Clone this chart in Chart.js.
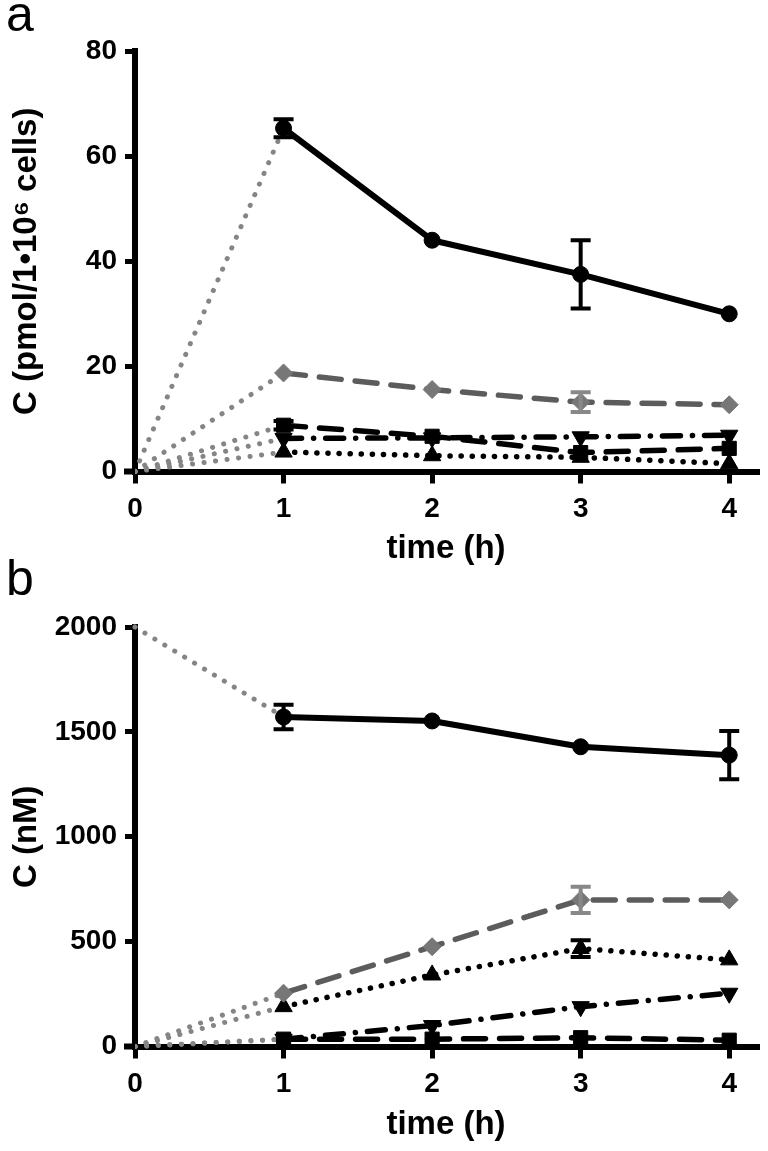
<!DOCTYPE html>
<html><head><meta charset="utf-8">
<script src="https://cdn.jsdelivr.net/npm/chart.js@4.4.1/dist/chart.umd.min.js"></script>
<style>
html,body{margin:0;padding:0;background:#fff;width:768px;height:1151px;overflow:hidden;}
.wrap{position:absolute;left:0;width:768px;}
#wa{top:0;height:575px;} #wb{top:575px;height:576px;}
.lbl{position:absolute;left:6px;font-family:"Liberation Sans",Arial,sans-serif;font-size:50px;line-height:50px;color:#000;}
canvas{display:block;}
</style></head><body>
<div class="wrap" id="wa"><canvas id="ca" width="768" height="575"></canvas></div>
<div class="wrap" id="wb"><canvas id="cb" width="768" height="576"></canvas></div>
<div class="lbl" style="top:-11px">a</div>
<div class="lbl" style="top:553px">b</div>
<script>
// ---------------- data ----------------
const timeH = [1, 2, 3, 4];
const xTickValues = [0, 1, 2, 3, 4];
const aYTicks = [0, 20, 40, 60, 80];
const bYTicks = [0, 500, 1000, 1500, 2000];

// panel a : C (pmol/1e6 cells)
const aCircle = [65.3, 44.0, 37.5, 30.0];
const aCircleErr = [1.7, 0, 6.5, 0];
const aDiamond = [18.75, 15.6, 13.2, 12.7];
const aDiamondErr = [0, 0, 1.9, 0];
const aSquare = [8.8, 6.7, 3.6, 4.4];
const aSquareErr = [0.8, 0, 0, 0];
const aInvTri = [6.3, 6.4, 6.6, 6.9];
const aInvTriErr = [0, 0, 0, 0];
const aTri = [3.7, 3.0, 2.7, 1.5];
const aTriErr = [0, 0, 0, 0];
const aStartValues = [0, 0, 0, 0, 0]; // circle, diamond, square, invTri, tri at t = 0

// panel b : C (nM)
const bCircle = [1571, 1552, 1429, 1389];
const bCircleErr = [58, 0, 0, 115];
const bDiamond = [254, 476, 699, 699];
const bDiamondErr = [0, 0, 63, 0];
const bSquare = [35, 35, 42, 30];
const bSquareErr = [0, 0, 0, 0];
const bInvTri = [35, 100, 190, 254];
const bInvTriErr = [0, 0, 0, 0];
const bTri = [190, 341, 467, 413];
const bTriErr = [0, 0, 40, 0];
const bStartValues = [2000, 0, 0, 0, 0];

// ---------------- styles ----------------
const FONT = '"Liberation Sans", Arial, Helvetica, sans-serif';
const styles = {
  circle:  {color:'#000', pointColor:'#000', barColor:'#000', width:6, dash:[], pointStyle:'circle', r:8, rot:0, order:1},
  diamond: {color:'#5c5c5c', pointColor:'#777', barColor:'#888', width:5.5, dash:[22,14], pointStyle:'rectRot', r:9, rot:0, order:2},
  square:  {color:'#000', pointColor:'#000', barColor:'#000', width:5.5, dash:[22,14], pointStyle:'rect', r:10, rot:0, order:3},
  invTri:  {color:'#000', pointColor:'#000', barColor:'#000', width:5.5, dash:[18,12,0.1,12], pointStyle:'triangle', r:10, rot:180, order:4},
  tri:     {color:'#000', pointColor:'#000', barColor:'#000', width:5.5, dash:[0.1,11], pointStyle:'triangle', r:10, rot:0, order:5}
};
const CONNECT = {color:'#858585', width:5, dash:[0.1,11.5]};

function seriesDataset(vals, errs, st) {
  return {
    data: timeH.map((t, i) => ({x: t, y: vals[i]})),
    errBars: errs, barColor: st.barColor,
    borderColor: st.color, borderWidth: st.width, borderDash: st.dash,
    borderCapStyle: 'round', borderJoinStyle: 'round',
    pointStyle: st.pointStyle, pointRadius: st.r, pointRotation: st.rot,
    pointBackgroundColor: st.pointColor, pointBorderColor: st.pointColor, pointBorderWidth: 1,
    order: st.order, clip: false, tension: 0
  };
}
function connectorDataset(start, firstVal) {
  return {
    data: [{x: 0, y: start}, {x: 1, y: firstVal}],
    borderColor: CONNECT.color, borderWidth: CONNECT.width, borderDash: CONNECT.dash,
    borderCapStyle: 'round', pointRadius: 0, order: 10, clip: false
  };
}

const errorBarPlugin = {
  id: 'errorBars',
  afterDatasetsDraw(chart) {
    const ctx = chart.ctx, ys = chart.scales.y;
    chart.data.datasets.forEach((ds, i) => {
      if (!ds.errBars) return;
      const meta = chart.getDatasetMeta(i);
      ds.errBars.forEach((e, j) => {
        if (!e) return;
        const pt = meta.data[j];
        const v = ds.data[j].y;
        const y1 = ys.getPixelForValue(v + e), y2 = ys.getPixelForValue(v - e);
        ctx.save();
        ctx.strokeStyle = ds.barColor; ctx.lineWidth = 4; ctx.lineCap = 'butt';
        ctx.beginPath();
        ctx.moveTo(pt.x, y1); ctx.lineTo(pt.x, y2);
        ctx.moveTo(pt.x - 10, y1); ctx.lineTo(pt.x + 10, y1);
        ctx.moveTo(pt.x - 10, y2); ctx.lineTo(pt.x + 10, y2);
        ctx.stroke();
        ctx.restore();
      });
    });
  }
};
const axisExtPlugin = {
  id: 'axisExt',
  afterDraw(chart) {
    const ctx = chart.ctx, a = chart.chartArea;
    ctx.save();
    ctx.strokeStyle = '#000'; ctx.lineWidth = 6;
    ctx.beginPath(); ctx.moveTo(a.left - 11, a.bottom); ctx.lineTo(a.left, a.bottom); ctx.stroke();
    ctx.restore();
  }
};

function makeChart(id, opt) {
  const names = ['circle', 'diamond', 'square', 'invTri', 'tri'];
  const datasets = [];
  opt.series.forEach((s, k) => {
    datasets.push(connectorDataset(opt.starts[k], s.vals[0]));
    datasets.push(seriesDataset(s.vals, s.errs, styles[names[k]]));
  });
  return new Chart(document.getElementById(id), {
    type: 'line',
    data: {datasets},
    plugins: [errorBarPlugin, axisExtPlugin],
    options: {
      responsive: false, animation: false, devicePixelRatio: 1,
      layout: {padding: {top: opt.padTop, right: 5, left: 0, bottom: 0}},
      plugins: {legend: {display: false}, tooltip: {enabled: false}},
      scales: {
        x: {
          type: 'linear', position: 'bottom', min: 0, max: 4.187,
          afterBuildTicks: s => { s.ticks = xTickValues.map(v => ({value: v})); },
          afterFit: s => { s.height = opt.xHeight; },
          grid: {drawOnChartArea: false, drawTicks: true, tickLength: 12, color: '#000', lineWidth: 5},
          border: {display: true, color: '#000', width: 6},
          ticks: {color: '#000', padding: 9, font: {family: FONT, size: 28, weight: 'bold'}, maxRotation: 0,
                  callback: v => String(v)},
          title: {display: true, text: 'time (h)', color: '#000', padding: {top: 0, bottom: 6},
                  font: {family: FONT, size: 33, weight: 'bold'}}
        },
        y: {
          type: 'linear', position: 'left', min: 0, max: opt.yMax,
          afterBuildTicks: s => { s.ticks = opt.yTicks.map(v => ({value: v})); },
          afterFit: s => { s.width = 135; },
          grid: {drawOnChartArea: false, drawTicks: true, tickLength: 10, color: '#000', lineWidth: 5},
          border: {display: true, color: '#000', width: 6},
          ticks: {color: '#000', padding: 8, font: {family: FONT, size: 28, weight: 'bold'},
                  callback: v => String(v)},
          title: {display: true, text: opt.yTitle, color: '#000', padding: {top: 7, bottom: 0},
                  font: {family: FONT, size: 33, weight: 'bold'}}
        }
      }
    }
  });
}

makeChart('ca', {
  yMax: 80, yTicks: aYTicks, yTitle: 'C (pmol/1•10\u2076 cells)', padTop: 51, xHeight: 103.5,
  starts: aStartValues,
  series: [
    {vals: aCircle, errs: aCircleErr},
    {vals: aDiamond, errs: aDiamondErr},
    {vals: aSquare, errs: aSquareErr},
    {vals: aInvTri, errs: aInvTriErr},
    {vals: aTri, errs: aTriErr}
  ]
});
makeChart('cb', {
  yMax: 2000, yTicks: bYTicks, yTitle: 'C (nM)', padTop: 52, xHeight: 104.5,
  starts: bStartValues,
  series: [
    {vals: bCircle, errs: bCircleErr},
    {vals: bDiamond, errs: bDiamondErr},
    {vals: bSquare, errs: bSquareErr},
    {vals: bInvTri, errs: bInvTriErr},
    {vals: bTri, errs: bTriErr}
  ]
});
</script>
</body></html>
